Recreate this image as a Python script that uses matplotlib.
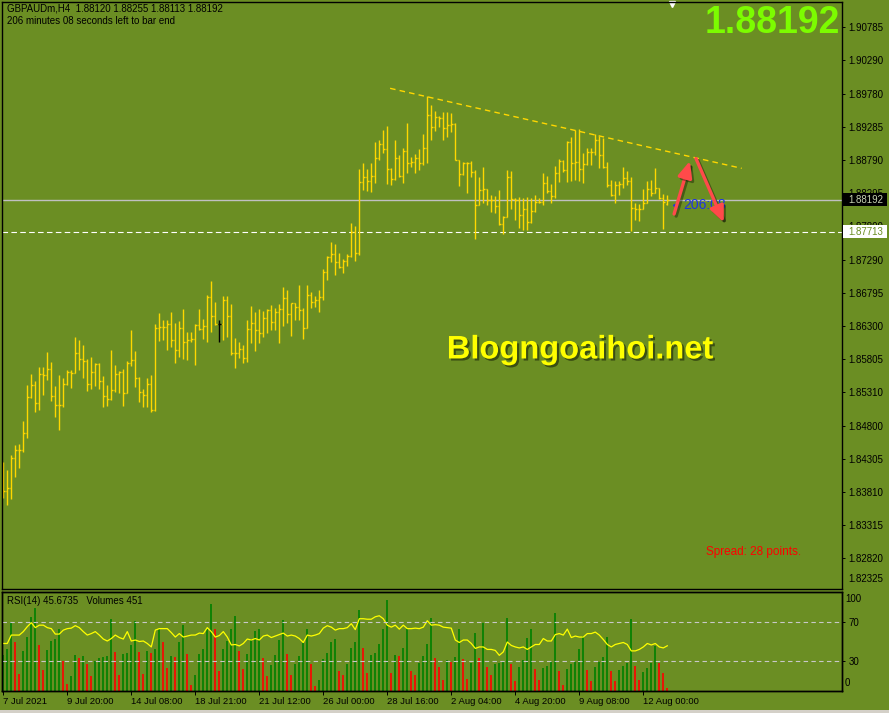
import numpy as np
import matplotlib.pyplot as plt
import matplotlib.patheffects as pe
from matplotlib.patches import Rectangle

plt.rcParams["font.family"] = ["Liberation Sans", "DejaVu Sans"]

# %% Data - GBPAUDm H4
highs = [
    1.84256, 1.84136, 1.84361, 1.84511, 1.84526, 1.84871, 1.85411, 1.85576, 1.85471, 1.85681,
    1.85681, 1.85906, 1.85756, 1.85396, 1.85561, 1.85516, 1.85636, 1.85636, 1.86131, 1.86086,
    1.86011, 1.85801, 1.85831, 1.85741, 1.85741, 1.85546, 1.85411, 1.85936, 1.85711, 1.85621,
    1.85651, 1.85771, 1.86236, 1.85921, 1.85531, 1.85351, 1.85516, 1.85561, 1.86326, 1.86491,
    1.86386, 1.86386, 1.86506, 1.86341, 1.86371, 1.86551, 1.86206, 1.86206, 1.86326, 1.86551,
    1.86401, 1.86761, 1.86971, 1.86656, 1.86386, 1.86746, 1.86746, 1.86626, 1.86116, 1.86056,
    1.86011, 1.86386, 1.86596, 1.86506, 1.86551, 1.86521, 1.86551, 1.86611, 1.86566, 1.86626,
    1.86881, 1.86836, 1.86641, 1.86641, 1.86911, 1.86566, 1.86911, 1.86806, 1.86746, 1.86836,
    1.87151, 1.87346, 1.87556, 1.87526, 1.87391, 1.87301, 1.87376, 1.87841, 1.87796, 1.88651,
    1.88741, 1.88651, 1.88741, 1.89056, 1.89086, 1.89236, 1.89296, 1.88666, 1.89086, 1.88861,
    1.88966, 1.89341, 1.88831, 1.88876, 1.88951, 1.89176, 1.89746, 1.89611, 1.89521, 1.89446,
    1.89506, 1.89506, 1.89491, 1.89341, 1.88786, 1.88756, 1.88756, 1.88771, 1.88636, 1.88531,
    1.88681, 1.88351, 1.88261, 1.88246, 1.88336, 1.87946, 1.88636, 1.88621, 1.88216, 1.88231,
    1.88216, 1.88231, 1.88216, 1.88261, 1.88216, 1.88591, 1.88546, 1.88426, 1.88696, 1.88801,
    1.88786, 1.89071, 1.89131, 1.89236, 1.89251, 1.88891, 1.88966, 1.88966, 1.89176, 1.89146,
    1.89116, 1.88756, 1.88486, 1.88471, 1.88471, 1.88681, 1.88621, 1.88531, 1.88141, 1.88126,
    1.88351, 1.88471, 1.88486, 1.88666, 1.88366, 1.88276, 1.88255]
lows = [
    1.83716, 1.83611, 1.83701, 1.84031, 1.84166, 1.84406, 1.84616, 1.85216, 1.85006, 1.85036,
    1.85261, 1.85486, 1.85171, 1.84931, 1.84736, 1.85081, 1.85411, 1.85366, 1.85591, 1.85636,
    1.85516, 1.85321, 1.85351, 1.85396, 1.85351, 1.85081, 1.85096, 1.85186, 1.85306, 1.85291,
    1.85096, 1.85291, 1.85696, 1.85381, 1.85156, 1.85081, 1.85081, 1.85006, 1.85021, 1.86071,
    1.86086, 1.85936, 1.85981, 1.85741, 1.85831, 1.85801, 1.85786, 1.86056, 1.85711, 1.86236,
    1.86101, 1.86056, 1.86206, 1.86311, 1.86056, 1.86086, 1.86131, 1.85861, 1.85666, 1.85816,
    1.85741, 1.85756, 1.86041, 1.85921, 1.86041, 1.86131, 1.86191, 1.86236, 1.86236, 1.86041,
    1.86296, 1.86341, 1.86146, 1.86386, 1.86386, 1.86101, 1.86266, 1.86566, 1.86581, 1.86506,
    1.86686, 1.86986, 1.87256, 1.87061, 1.87166, 1.87091, 1.87196, 1.87331, 1.87271, 1.87361,
    1.88336, 1.88321, 1.88306, 1.88441, 1.88786, 1.88891, 1.88426, 1.88411, 1.88486, 1.88531,
    1.88441, 1.88591, 1.88681, 1.88591, 1.88636, 1.88711, 1.88741, 1.89086, 1.89221, 1.89281,
    1.89086, 1.89131, 1.89206, 1.88786, 1.88396, 1.88561, 1.88291, 1.88531, 1.87601, 1.88111,
    1.88141, 1.88111, 1.88006, 1.87991, 1.87811, 1.87676, 1.87931, 1.88051, 1.87886, 1.87766,
    1.87736, 1.87736, 1.87841, 1.88006, 1.88141, 1.88111, 1.88291, 1.88141, 1.88216, 1.88456,
    1.88606, 1.88456, 1.88471, 1.88486, 1.88471, 1.88441, 1.88711, 1.88711, 1.88861, 1.88666,
    1.88666, 1.88381, 1.88246, 1.88141, 1.88261, 1.88366, 1.88411, 1.87721, 1.87886, 1.87871,
    1.88051, 1.88141, 1.88246, 1.88291, 1.88201, 1.87751, 1.88113]
closes = [
    1.83821, 1.83866, 1.84316, 1.84436, 1.84436, 1.84691, 1.85231, 1.85411, 1.85141, 1.85576,
    1.85561, 1.85651, 1.85246, 1.85111, 1.85111, 1.85426, 1.85606, 1.85591, 1.85891, 1.85801,
    1.85771, 1.85426, 1.85606, 1.85726, 1.85471, 1.85246, 1.85201, 1.85336, 1.85576, 1.85606,
    1.85291, 1.85741, 1.85786, 1.85516, 1.85306, 1.85261, 1.85426, 1.85036, 1.86266, 1.86281,
    1.86281, 1.86326, 1.86086, 1.85936, 1.86266, 1.86056, 1.86086, 1.86101, 1.86311, 1.86251,
    1.86296, 1.86731, 1.86446, 1.86326, 1.86326, 1.86686, 1.86446, 1.85891, 1.85891, 1.85951,
    1.85816, 1.86251, 1.86341, 1.86236, 1.86191, 1.86416, 1.86536, 1.86356, 1.86506, 1.86551,
    1.86716, 1.86476, 1.86641, 1.86581, 1.86536, 1.86266, 1.86761, 1.86656, 1.86686, 1.86731,
    1.87106, 1.87331, 1.87376, 1.87256, 1.87181, 1.87271, 1.87346, 1.87706, 1.87391, 1.88456,
    1.88531, 1.88471, 1.88546, 1.88816, 1.89026, 1.88951, 1.88651, 1.88501, 1.88816, 1.88546,
    1.88921, 1.88741, 1.88756, 1.88816, 1.88741, 1.88966, 1.89461, 1.89281, 1.89431, 1.89416,
    1.89266, 1.89311, 1.89326, 1.88786, 1.88576, 1.88741, 1.88741, 1.88606, 1.88111, 1.88336,
    1.88351, 1.88186, 1.88186, 1.88096, 1.87826, 1.87931, 1.88531, 1.88201, 1.88186, 1.87961,
    1.88051, 1.87856, 1.88021, 1.88156, 1.88156, 1.88441, 1.88321, 1.88246, 1.88591, 1.88771,
    1.88636, 1.89056, 1.88741, 1.88756, 1.88651, 1.88726, 1.88906, 1.88906, 1.89086, 1.88861,
    1.88681, 1.88411, 1.88261, 1.88411, 1.88426, 1.88516, 1.88471, 1.88066, 1.88051, 1.88051,
    1.88141, 1.88351, 1.88291, 1.88366, 1.88216, 1.88156, 1.88192]
first_open = 1.83791
last_open = 1.88120
black_bar = 54  # the one bar drawn in black

rsi = [
    48, 48, 56.5, 56.5, 56.5, 60, 65, 69, 64, 66.5,
    66.5, 64, 63, 57.5, 57.5, 61.5, 63, 63.5, 66, 64,
    60, 56.5, 58, 60, 56.5, 52.5, 50.5, 53, 56.5, 54,
    52.5, 60, 50.5, 51.5, 50, 50.5, 48, 44.5, 61.5, 63,
    63, 63, 59, 54.5, 58, 54.5, 55.5, 56.5, 56.5, 58.5,
    58, 64, 60, 54.5, 56, 60, 54.5, 46.5, 47, 45.5,
    48, 52.5, 51.5, 53, 51.5, 55.5, 56.5, 54, 55.5, 57,
    58.5, 55.5, 56.5, 55.5, 53, 49, 56.5, 55.5, 56.5, 58,
    63.5, 66, 64.5, 61.5, 63, 63, 64, 68, 62, 73,
    73, 72.5, 72.5, 75, 76, 73, 66.5, 64.5, 66.5, 62.5,
    66.5, 63, 63, 63.5, 63, 64.5, 71, 66.5, 67, 66.5,
    64.5, 64, 63.5, 51.5, 49, 51.5, 51.5, 48, 43, 44.5,
    44.5, 42, 42, 41, 36, 39.5, 49.5, 46, 44.5, 43.5,
    44.5, 42, 44.5, 47, 47, 53, 50.5, 50.5, 57, 58,
    56.5, 62.5, 54, 55.5, 54.5, 54.5, 58, 58, 59.5, 56.5,
    52, 47, 44.5, 47, 48, 49, 47, 40.5, 40.5, 42,
    44.5, 48, 46.5, 48, 44.5, 43.5, 45.6735]

volumes = [
    4860, 5625, 9315, 6615, 2340, 5400, 7290, 9990, 11250, 6165,
    2835, 5535, 6750, 7020, 8415, 4050, 990, 2025, 4860, 4500,
    4725, 3690, 2025, 4050, 4500, 4590, 4725, 9765, 5265, 2160,
    5040, 5175, 6165, 9450, 5310, 2340, 5400, 5175, 5625, 8325,
    6615, 3150, 4725, 4590, 6615, 8865, 4950, 810, 2115, 4950,
    5625, 8325, 11700, 8325, 2700, 5625, 6750, 8325, 10125, 5400,
    2925, 4950, 6975, 8100, 8415, 4500, 2025, 3510, 4860, 6840,
    9585, 4950, 2160, 3690, 4725, 6525, 8415, 3600, 675, 1440,
    4365, 5175, 6615, 7065, 2700, 2115, 3690, 5850, 6615, 10935,
    5850, 2385, 4860, 5175, 6300, 8415, 12285, 2385, 4860, 4725,
    5850, 8325, 2700, 2115, 3825, 4725, 6300, 9855, 4500, 3240,
    1485, 4185, 3915, 4635, 8325, 4365, 1665, 3825, 7875, 4500,
    9225, 3285, 2115, 3600, 3735, 3915, 9900, 3690, 1350, 3285,
    4185, 7200, 8415, 3015, 1485, 3150, 3375, 3915, 10575, 2700,
    810, 3015, 3600, 3915, 5625, 7425, 2835, 1350, 3285, 3915,
    4635, 7335, 2700, 1350, 2835, 3375, 3735, 9765, 3375, 1485,
    2565, 3150, 3735, 6075, 3735, 2475, 451]

date_ticks = [0, 16, 32, 48, 64, 80, 96, 112, 128, 144, 160]
date_labels = ['7 Jul 2021', '9 Jul 20:00', '14 Jul 08:00', '18 Jul 21:00',
               '21 Jul 12:00', '26 Jul 00:00', '28 Jul 16:00', '2 Aug 04:00',
               '4 Aug 20:00', '9 Aug 08:00', '12 Aug 00:00']
price_ticks = [1.90785, 1.90290, 1.89780, 1.89285, 1.88790, 1.88295, 1.87800,
               1.87290, 1.86795, 1.86300, 1.85805, 1.85310, 1.84800, 1.84305,
               1.83810, 1.83315, 1.82820]
bottom_price_label = '1.82325'

bid = 1.88192
hline_price = 1.87713
trend_x = [96.7, 184.6]
trend_y = [1.89861, 1.88661]
arrow_up = [(167.5, 1.87936), (171.85, 1.88811)]
arrow_down = [(172.9, 1.88846), (180.4, 1.87811)]
timer_pos = (170.0, 1.88111)

opens = [first_open] + closes[:-1]
opens[-1] = last_open

# %% Figure
bg = '#6B8E23'
bar_col = '#FFD700'
W, H = 889, 713
fig = plt.figure(figsize=(W / 100, H / 100), dpi=100, facecolor=bg)
ax = fig.add_axes([2 / W, 1 - 589 / H, 840 / W, 587 / H], facecolor=bg)
ax2 = fig.add_axes([2 / W, 1 - 691 / H, 840 / W, 99 / H], facecolor=bg)
ax3 = ax2.twinx()

x = np.arange(len(closes))
cols = [bar_col] * len(x)
cols[black_bar] = 'black'
lo = np.minimum(lows, np.minimum(opens, closes))
hi = np.maximum(highs, np.maximum(opens, closes))
ax.vlines(x, lo, hi, colors=cols, lw=1.0)
ax.hlines(opens, x - 0.45, x, colors=cols, lw=1.0)
ax.hlines(closes, x, x + 0.45, colors=cols, lw=1.0)

ax.axhline(bid, color='#C0C0C0', lw=1.0, zorder=1)
ax.axhline(hline_price, color='white', lw=0.8, ls=(0, (5, 3)), zorder=1)
ax.plot(trend_x, trend_y, color=bar_col, lw=1.0, ls=(0, (4, 3)))

# timer label, drawn under the arrows
ax.text(timer_pos[0], timer_pos[1], '206:08', color='#1E32E6', fontsize=10,
        va='center', ha='left', zorder=3)
ax.plot(timer_pos[0] - 2.1, timer_pos[1], marker='<', color='#1E32E6', ms=3, zorder=3)

# arrows
for (x0, y0), (x1, y1) in [arrow_up, arrow_down]:
    ax.annotate('', xy=(x1, y1), xytext=(x0, y0), zorder=4,
                arrowprops=dict(arrowstyle='-|>,head_length=0.8,head_width=0.35',
                                color='#FF4A4A', lw=2.4, mutation_scale=12,
                                path_effects=[pe.SimpleLineShadow(offset=(1.5, -1.5), alpha=0.35),
                                              pe.Normal()]))

ax.set_xlim(-0.325, 209.675)
ax.set_ylim(1.82351, 1.91156)

# price axis
ax.yaxis.tick_right()
ax.set_yticks(price_ticks)
ax.set_yticklabels(['%.5f' % p for p in price_ticks])
ax.tick_params(axis='y', direction='out', length=2.5, width=0.7, colors='black',
               labelsize=7, pad=2)
ax.tick_params(axis='x', bottom=False, labelbottom=False)
ax.text(1 + 6 / 840, 1.8250, bottom_price_label, transform=ax.get_yaxis_transform(),
        va='center', fontsize=7, clip_on=False)

tr = ax.get_yaxis_transform()
for price, fc, tc in [(bid, 'black', '#C8D2B4'), (hline_price, 'white', bg)]:
    ax.add_patch(Rectangle((1 + 1 / 840, price - 0.00092), 44 / 840, 0.00184,
                           transform=tr, facecolor=fc, edgecolor='none',
                           clip_on=False, zorder=5))
    ax.text(1 + 6 / 840, price, '%.5f' % price, transform=tr, color=tc, fontsize=7,
            va='center', ha='left', clip_on=False, zorder=6)

for s in ax.spines.values():
    s.set_color('black')
    s.set_linewidth(1)

# texts
ax.text(0.006, 0.9895, 'GBPAUDm,H4  1.88120 1.88255 1.88113 1.88192',
        transform=ax.transAxes, fontsize=7, va='center', color='black')
ax.text(0.006, 0.9675, '206 minutes 08 seconds left to bar end',
        transform=ax.transAxes, fontsize=7, va='center', color='black')
ax.text(0.9976, 0.9635, '%.5f' % bid, transform=ax.transAxes, fontsize=27,
        fontweight='bold', color='#7CFC00', ha='right', va='center')
ax.text(0.688, 0.4072, 'Blogngoaihoi.net', transform=ax.transAxes, fontsize=23.5,
        fontweight='bold', color='#FFFF00', ha='center', va='center',
        path_effects=[pe.SimplePatchShadow(offset=(1.5, -1.5), shadow_rgbFace='black',
                                           alpha=0.45), pe.Normal()])
ax.text(0.838, 0.063, 'Spread: 28 points.', transform=ax.transAxes, fontsize=8.5,
        color='#FF0000', ha='left', va='center')
ax.plot([0.7976], [0.996], marker='v', color='white', ms=5,
        transform=ax.transAxes, clip_on=False)

# %% Volumes + RSI panel
vcol = ['#008000'] + ['#008000' if volumes[i] > volumes[i - 1] else '#FF0000'
                      for i in range(1, len(volumes))]
ax2.vlines(x, 0, volumes, colors=vcol, lw=1.2)
ax2.set_ylim(0, 13365)
ax2.set_xlim(-0.325, 209.675)
ax2.set_yticks([])
ax2.set_xticks(date_ticks)
ax2.set_xticklabels(date_labels)
for lab in ax2.get_xticklabels():
    lab.set_horizontalalignment('left')
ax2.tick_params(axis='x', direction='out', length=3, width=0.7, colors='black',
                labelsize=6.8, pad=1.5)

ax3.plot(x, rsi, color='#FFFF00', lw=0.9)
ax3.axhline(70, color='#C8C8C8', lw=0.8, ls=(0, (4, 3)))
ax3.axhline(30, color='#C8C8C8', lw=0.8, ls=(0, (4, 3)))
ax3.set_ylim(0, 100)
ax3.set_yticks([30, 70])
ax3.set_yticklabels(['30', '70'])
ax3.tick_params(axis='y', direction='out', length=2.5, width=0.7, colors='black',
                labelsize=7, pad=2)
ax3.text(1 + 3 / 840, 93, '100', transform=ax3.get_yaxis_transform(), fontsize=7,
         va='center', clip_on=False)
ax3.text(1 + 3 / 840, 8, '0', transform=ax3.get_yaxis_transform(), fontsize=7,
         va='center', clip_on=False)
ax3.text(0.006, 0.909, 'RSI(14) 45.6735   Volumes 451', transform=ax3.transAxes,
         fontsize=7, va='center', color='black')
for a in (ax2, ax3):
    for s in a.spines.values():
        s.set_color('black')
        s.set_linewidth(1)

fig.add_artist(Rectangle((0, 0), 1, 3 / H, transform=fig.transFigure,
                         facecolor='#D4D0C8', edgecolor='none'))

plt.savefig('out.png', dpi=100, facecolor=bg)
